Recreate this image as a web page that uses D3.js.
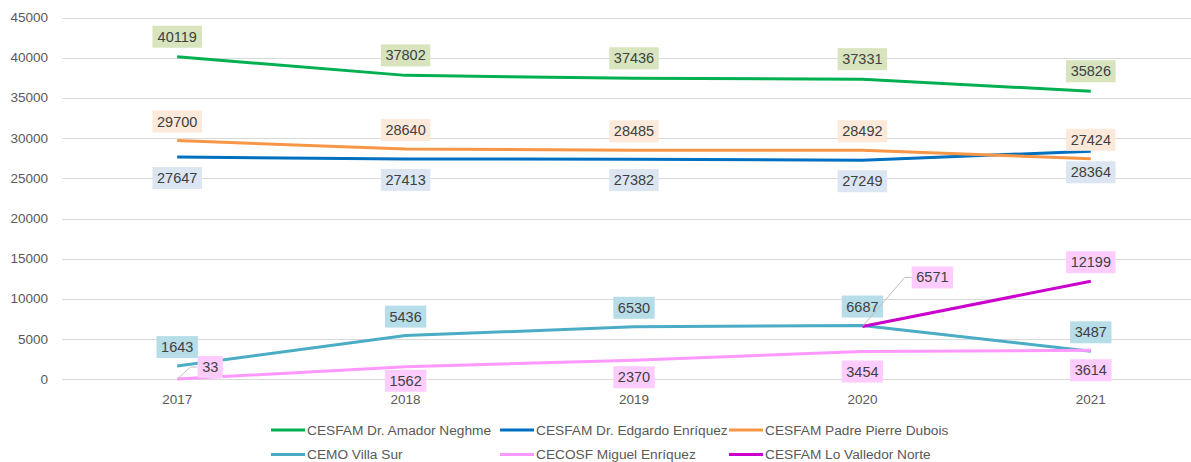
<!DOCTYPE html>
<html>
<head>
<meta charset="utf-8">
<script src="https://cdn.jsdelivr.net/npm/d3@7"></script>
<style>
  body { margin: 0; background: #fff; }
  svg { display: block; font-family: "Liberation Sans", Arial, sans-serif; }
</style>
</head>
<body>
<svg id="chart" width="1191" height="462"></svg>
<script>
// data
const years = ["2017", "2018", "2019", "2020", "2021"];
const yTicks = [0, 5000, 10000, 15000, 20000, 25000, 30000, 35000, 40000, 45000];

const amadorNeghme = [40119, 37802, 37436, 37331, 35826];
const edgardoEnriquez = [27647, 27413, 27382, 27249, 28364];
const pierreDubois = [29700, 28640, 28485, 28492, 27424];
const villaSur = [1643, 5436, 6530, 6687, 3487];
const miguelEnriquez = [33, 1562, 2370, 3454, 3614];
const valledorNorte = [null, null, null, 6571, 12199];

const seriesNames = [
  "CESFAM Dr. Amador Neghme",
  "CESFAM Dr. Edgardo Enríquez",
  "CESFAM Padre Pierre Dubois",
  "CEMO Villa Sur",
  "CECOSF Miguel Enríquez",
  "CESFAM Lo Valledor Norte"
];

// drawing styles, same order as seriesNames
const lineColors = ["#00b050", "#0070c0", "#f79646", "#4bacc6", "#ff99ff", "#cc00cc"];
const labelFills = ["#d7e4bd", "#dce6f2", "#fde9d9", "#b7dee8", "#ffccff", "#ffccff"];
const labelDy = [-20, 21, -19, -19, 20, -19];   // px, negative = above the point

const allValues = [amadorNeghme, edgardoEnriquez, pierreDubois, villaSur, miguelEnriquez, valledorNorte];

const series = seriesNames.map((name, k) => ({
  name,
  color: lineColors[k],
  fill: labelFills[k],
  dy: labelDy[k],
  values: allValues[k].map((v, i) => ({year: years[i], value: v}))
}));

// labels Excel moved by hand (with a leader line) or nudged
const labelMoves = {
  "4-0": {dx: 33, dy: -12, leader: true},
  "5-3": {dx: 70, dy: -49, leader: true},
  "4-1": {dx: 0, dy: 14},
  "4-2": {dx: 0, dy: 17}
};

const svg = d3.select("#chart");

const x = d3.scalePoint()
  .domain(years)
  .range([63, 1205])
  .padding(0.5);

const y = d3.scaleLinear()
  .domain([0, 45000])
  .range([379.3, 17.5]);

// gridlines
svg.append("g")
  .selectAll("line")
  .data(yTicks)
  .join("line")
  .attr("x1", 62)
  .attr("x2", 1205)
  .attr("y1", d => Math.round(y(d)) + 0.5)
  .attr("y2", d => Math.round(y(d)) + 0.5)
  .attr("stroke", "#d9d9d9")
  .attr("stroke-width", 1);

// y axis labels
svg.append("g")
  .selectAll("text")
  .data(yTicks)
  .join("text")
  .attr("x", 48)
  .attr("y", d => y(d))
  .attr("text-anchor", "end")
  .attr("dominant-baseline", "central")
  .attr("font-size", 13.5)
  .attr("fill", "#595959")
  .text(d => d);

// x axis labels
svg.append("g")
  .selectAll("text")
  .data(years)
  .join("text")
  .attr("x", d => x(d))
  .attr("y", 399)
  .attr("text-anchor", "middle")
  .attr("dominant-baseline", "central")
  .attr("font-size", 13.5)
  .attr("fill", "#595959")
  .text(d => d);

// lines
const line = d3.line()
  .defined(d => d.value != null)
  .x(d => x(d.year))
  .y(d => y(d.value));

svg.append("g")
  .selectAll("path")
  .data(series)
  .join("path")
  .attr("d", d => line(d.values))
  .attr("fill", "none")
  .attr("stroke", d => d.color)
  .attr("stroke-width", 3)
  .attr("stroke-linejoin", "round");

// data labels
const labelData = [];
series.forEach((s, k) => {
  s.values.forEach((p, i) => {
    if (p.value == null) return;
    const m = labelMoves[k + "-" + i] || {dx: 0, dy: s.dy};
    labelData.push({
      px: x(p.year),
      py: y(p.value),
      cx: x(p.year) + m.dx,
      cy: y(p.value) + m.dy,
      leader: !!m.leader,
      text: String(p.value),
      fill: s.fill
    });
  });
});

const boxW = d => d.text.length * 8.1 + 9;

const labels = svg.append("g")
  .selectAll("g")
  .data(labelData)
  .join("g");

labels.filter(d => d.leader)
  .append("polyline")
  .attr("points", d => {
    const ex = d.cx - boxW(d) / 2;
    return [[d.px, d.py], [ex - 7, d.cy], [ex, d.cy]].join(" ");
  })
  .attr("fill", "none")
  .attr("stroke", "#bfbfbf")
  .attr("stroke-width", 1);

labels.append("rect")
  .attr("x", d => d.cx - boxW(d) / 2)
  .attr("y", d => d.cy - 11)
  .attr("width", boxW)
  .attr("height", 22)
  .attr("fill", d => d.fill);

labels.append("text")
  .attr("x", d => d.cx)
  .attr("y", d => d.cy)
  .attr("text-anchor", "middle")
  .attr("dominant-baseline", "central")
  .attr("font-size", 14.5)
  .attr("fill", "#404040")
  .text(d => d.text);

// legend
const legend = svg.append("g")
  .selectAll("g")
  .data(series)
  .join("g")
  .attr("transform", (d, i) => `translate(${271 + (i % 3) * 229},${i < 3 ? 430 : 454.5})`);

legend.append("line")
  .attr("x1", 0)
  .attr("x2", 34)
  .attr("stroke", d => d.color)
  .attr("stroke-width", 3);

legend.append("text")
  .attr("x", 36)
  .attr("dominant-baseline", "central")
  .attr("font-size", 13.7)
  .attr("fill", "#595959")
  .text(d => d.name);
</script>
</body>
</html>
